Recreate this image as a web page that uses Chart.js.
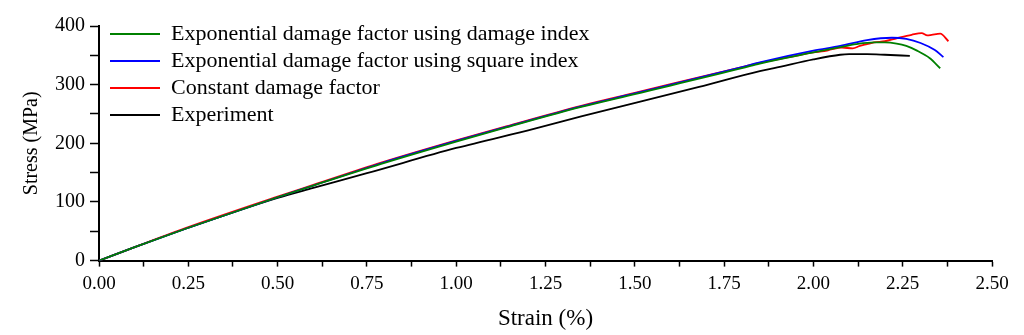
<!DOCTYPE html>
<html>
<head>
<meta charset="utf-8">
<script src="https://cdn.jsdelivr.net/npm/chart.js@4.4.1/dist/chart.umd.min.js"></script>
<style>
html,body{margin:0;padding:0;background:#fff;}
#wrap{width:1024px;height:335px;position:relative;}
</style>
</head>
<body>
<div id="wrap"><canvas id="c"></canvas></div>
<script>
const seriesNames = [
  "Exponential damage factor using damage index",
  "Exponential damage factor using square index",
  "Constant damage factor",
  "Experiment"
];
const greenStrain = [0, 0.1, 0.25, 0.5, 0.6, 0.79, 1.0, 1.14, 1.35, 1.5, 1.8, 1.85, 2.0, 2.075, 2.12, 2.17, 2.2, 2.233, 2.26, 2.29, 2.326, 2.355];
const greenStress = [0, 23, 56, 108, 128, 165, 203, 227, 262, 284, 328, 336, 355, 364, 369, 372, 372, 370, 366, 358, 345, 328];
const blueStrain = [0, 0.1, 0.25, 0.5, 0.6, 0.79, 1.0, 1.14, 1.35, 1.5, 1.8, 1.85, 2.0, 2.075, 2.15, 2.22, 2.26, 2.3, 2.34, 2.364];
const blueStress = [0, 23, 56, 108, 128, 166, 204, 228, 263, 285, 330, 338, 358, 366, 376, 380, 378, 371, 359, 347];
const redStrain = [0, 0.1, 0.25, 0.5, 0.6, 0.79, 1.0, 1.14, 1.35, 1.5, 1.8, 1.85, 1.95, 2.0, 2.03, 2.05, 2.08, 2.11, 2.13, 2.15, 2.17, 2.2, 2.233, 2.275, 2.303, 2.319, 2.331, 2.355, 2.378];
const redStress = [0, 23, 57, 109, 129, 167, 205, 229, 264, 286, 330, 337, 349, 355, 357, 360, 363, 362, 366, 369, 372, 374, 379, 385, 388, 384, 385, 387, 374];
const blackStrain = [0, 0.1, 0.25, 0.5, 0.6, 0.75, 1.0, 1.22, 1.35, 1.68, 1.85, 1.89, 2.0, 2.075, 2.1, 2.15, 2.2, 2.27];
const blackStress = [0, 23, 56, 107, 124, 149, 192, 225, 246, 296, 323, 328, 343, 351, 352, 352, 351, 349];
const xTickLabels = ["0.00","0.25","0.50","0.75","1.00","1.25","1.50","1.75","2.00","2.25","2.50"];
const yTickLabels = ["0","100","200","300","400"];

function pts(xs, ys){ return xs.map((x,i)=>({x:x,y:ys[i]})); }
const colors = ["#008000","#0000ff","#ff0000","#000000"];
const data = [pts(greenStrain,greenStress), pts(blueStrain,blueStress), pts(redStrain,redStress), pts(blackStrain,blackStress)];

const FONT = "'Liberation Serif','Times New Roman',serif";
const datasets = seriesNames.map((n,i)=>({
  label:n, data:data[i], borderColor:colors[i], backgroundColor:colors[i],
  borderWidth:1.8, pointRadius:0, showLine:true, fill:false,
  cubicInterpolationMode:'monotone'
}));

const legendShift = {
  id:'legendShift',
  afterLayout(chart){ if(chart.legend){ chart.legend.left += 6; chart.legend.right += 6; chart.legend.top += 18; chart.legend.bottom += 18; } }
};

new Chart(document.getElementById('c'), {
  type:'scatter',
  data:{datasets:datasets},
  plugins:[legendShift],
  options:{
    responsive:true, maintainAspectRatio:false, animation:false,
    layout:{padding:{left:20,right:32,top:26,bottom:2}},
    plugins:{
      tooltip:{enabled:false},
      legend:{
        position:'chartArea', align:'start',
        labels:{
          font:{family:FONT,size:22}, color:'#000', boxWidth:50, boxHeight:2, padding:5,
          generateLabels:(chart)=>chart.data.datasets.map((d,i)=>({
            text:d.label, fillStyle:d.borderColor, strokeStyle:d.borderColor, lineWidth:0, datasetIndex:i, hidden:false
          }))
        }
      }
    },
    scales:{
      x:{
        type:'linear', min:0, max:2.5,
        ticks:{stepSize:0.125, autoSkip:false, maxRotation:0, color:'#000', font:{family:FONT,size:19}, padding:6,
          callback:(v)=>{const k=Math.round(v/0.125); return k%2===0 ? xTickLabels[k/2] : '';}},
        grid:{display:true, drawOnChartArea:false, drawTicks:true, tickLength:6, color:'#000', tickWidth:1.5},
        border:{display:true, color:'#000', width:2},
        title:{display:true, text:'Strain (%)', color:'#000', font:{family:FONT,size:23}, padding:{top:4,bottom:0}}
      },
      y:{
        type:'linear', min:0, max:400,
        ticks:{stepSize:50, autoSkip:false, color:'#000', font:{family:FONT,size:20}, padding:5,
          callback:(v)=>{const k=Math.round(v/50); return k%2===0 ? yTickLabels[k/2] : '';}},
        grid:{display:true, drawOnChartArea:false, drawTicks:true, tickLength:9, color:'#000', tickWidth:1.5},
        border:{display:true, color:'#000', width:2},
        title:{display:true, text:'Stress (MPa)', color:'#000', font:{family:FONT,size:20}, padding:{top:0,bottom:6}}
      }
    }
  }
});
</script>
</body>
</html>
